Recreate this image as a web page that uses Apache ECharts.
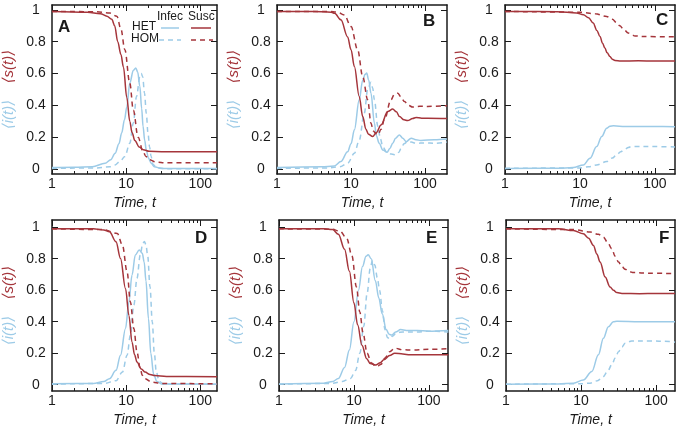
<!DOCTYPE html>
<html>
<head>
<meta charset="utf-8">
<script src="https://cdn.jsdelivr.net/npm/echarts@6/dist/echarts.min.js"></script>
<style>
  html, body { margin: 0; padding: 0; background: #fff; }
  #chart { width: 680px; height: 431px; }
</style>
</head>
<body>
<div id="chart"></div>
<script>
// tick values
var majorX = [1, 10, 100];
var minorX = [2, 3, 4, 5, 6, 7, 8, 9, 20, 30, 40, 50, 60, 70, 80, 90, 200];
var ticksY = [0, 0.2, 0.4, 0.6, 0.8, 1];
var panelNames = ['A', 'B', 'C', 'D', 'E', 'F'];

// [time, value]
// panel A
var aHetInf = [[1,0.01],[2,0.012],[3.5,0.016],[5.2,0.037],[6.2,0.06],[7.1,0.1],[8,0.16],[8.7,0.227],[9.5,0.31],[10.2,0.39],[11.2,0.54],[12.5,0.62],[13.5,0.635],[14.3,0.61],[15.3,0.52],[16.2,0.38],[16.9,0.27],[17.8,0.18],[18.7,0.12],[20,0.07],[21.7,0.038],[24,0.015],[30,0.005],[168,0.005]];
var aHomInf = [[1,0.005],[4,0.008],[6,0.015],[7.1,0.027],[8.3,0.05],[9.6,0.08],[11.2,0.163],[12.5,0.29],[13.8,0.456],[15.3,0.58],[16,0.6],[16.7,0.58],[17.7,0.477],[18.7,0.35],[19.7,0.227],[20.7,0.14],[21.7,0.08],[23,0.03],[26,0.008],[35,0.003],[168,0.003]];
var aHetSus = [[1,0.99],[3,0.985],[4.5,0.975],[5.5,0.96],[6.4,0.94],[7,0.9],[7.7,0.8],[8.5,0.72],[9.2,0.64],[10.2,0.45],[11.2,0.3],[12,0.23],[13.1,0.18],[15,0.14],[17,0.122],[20.5,0.112],[30,0.11],[168,0.11]];
var aHomSus = [[1,0.99],[4,0.988],[6,0.98],[7.5,0.96],[8.5,0.88],[9.6,0.75],[11.2,0.54],[12.5,0.37],[14.5,0.2],[16.9,0.11],[18.5,0.08],[20.7,0.06],[25,0.045],[35,0.04],[168,0.04]];
// panel B
var bHetInf = [[1,0.01],[4,0.015],[5.95,0.02],[7.3,0.048],[9,0.11],[10,0.16],[11.1,0.247],[12.9,0.435],[14.4,0.56],[15.5,0.595],[16.3,0.603],[17.3,0.56],[18.6,0.477],[20.7,0.289],[22,0.21],[24,0.163],[27,0.12],[30.7,0.107],[33.5,0.13],[36.6,0.163],[40,0.195],[45,0.215],[50,0.195],[55.6,0.173],[65,0.195],[75,0.185],[88,0.18],[134,0.185],[198,0.19]];
var bHomInf = [[1,0.005],[5,0.008],[7,0.015],[9,0.037],[11.1,0.1],[12.9,0.18],[15.1,0.35],[16.8,0.5],[18.6,0.545],[19.6,0.51],[20.7,0.435],[23,0.27],[25,0.19],[26.8,0.142],[30,0.11],[35,0.095],[40.6,0.09],[44,0.105],[47.5,0.13],[52,0.16],[58.3,0.173],[65,0.17],[75.5,0.163],[100,0.165],[134,0.163],[198,0.17]];
var bHetSus = [[1,0.99],[3,0.99],[5.4,0.985],[6,0.978],[7.3,0.937],[9,0.83],[10,0.75],[11.1,0.644],[12.9,0.456],[14.4,0.33],[15.9,0.25],[17.2,0.22],[19.6,0.205],[22,0.23],[25.4,0.278],[31.3,0.362],[36.6,0.377],[41,0.36],[45.2,0.33],[52,0.31],[58.3,0.305],[68,0.318],[75.5,0.325],[90,0.32],[108,0.32],[198,0.318]];
var bHomSus = [[1,0.99],[5,0.99],[6.6,0.985],[8.1,0.968],[10,0.895],[12.3,0.749],[14.4,0.58],[16.8,0.435],[18.6,0.289],[20,0.24],[21.8,0.222],[23,0.215],[25.5,0.25],[28.2,0.31],[34.7,0.435],[38.5,0.47],[42.8,0.477],[47,0.455],[52.7,0.424],[60,0.4],[68,0.39],[85,0.395],[108,0.394],[198,0.398]];
// panel C
var cHetInf = [[1,0.005],[5,0.006],[8.1,0.01],[11.1,0.027],[13.6,0.069],[16.7,0.142],[19.5,0.205],[22.7,0.257],[25.1,0.27],[28,0.272],[40,0.268],[100,0.268],[185,0.267]];
var cHomInf = [[1,0.005],[10,0.008],[13,0.015],[16.7,0.027],[22.7,0.048],[27,0.07],[30.8,0.09],[35,0.11],[39.8,0.126],[44,0.136],[48.7,0.142],[100,0.142],[185,0.14]];
var cHetSus = [[1,0.99],[5,0.988],[9,0.98],[11.1,0.969],[13,0.95],[15,0.917],[16.8,0.87],[18.5,0.832],[20,0.79],[21.5,0.76],[23,0.73],[25.1,0.707],[27,0.69],[29.3,0.682],[35,0.678],[60,0.68],[100,0.678],[185,0.678]];
var cHomSus = [[1,0.99],[10,0.985],[16,0.975],[22.7,0.958],[27,0.94],[30.8,0.92],[34,0.9],[37.9,0.88],[44,0.854],[50,0.84],[54,0.836],[70,0.832],[185,0.83]];
// panel D
var dHetInf = [[1,0.006],[3.6,0.008],[5,0.02],[5.95,0.038],[7.3,0.091],[8.4,0.187],[9.8,0.357],[10.9,0.526],[12,0.696],[13.3,0.824],[15,0.855],[16.5,0.835],[17.5,0.78],[18.5,0.66],[20,0.42],[21.5,0.2],[23.5,0.065],[26,0.02],[30,0.005],[168,0.003]];
var dHomInf = [[1,0.003],[5,0.008],[7.3,0.025],[8.9,0.08],[10.3,0.187],[11.4,0.314],[12.7,0.505],[14,0.675],[15.5,0.824],[16.7,0.895],[17.6,0.91],[18.5,0.89],[19.5,0.82],[21,0.62],[22.5,0.4],[24,0.2],[25.5,0.08],[28,0.02],[32,0.005],[168,0.003]];
var dHetSus = [[1,0.99],[3.6,0.99],[5,0.983],[5.95,0.972],[7.3,0.908],[8.4,0.802],[9.8,0.611],[10.9,0.44],[12,0.27],[13,0.19],[14,0.144],[16,0.1],[18,0.08],[21,0.065],[24.3,0.058],[35,0.052],[168,0.05]];
var dHomSus = [[1,0.99],[5,0.985],[7.6,0.96],[8.9,0.887],[10.3,0.717],[11.4,0.526],[12.7,0.357],[14,0.208],[15.5,0.102],[16.5,0.06],[18,0.038],[22,0.017],[30,0.008],[168,0.005]];
// panel E
var eHetInf = [[1,0.005],[4,0.01],[5.2,0.02],[6.2,0.04],[7.5,0.11],[8.7,0.22],[10,0.4],[11.5,0.6],[13,0.75],[14.5,0.815],[15.5,0.825],[17,0.8],[19.3,0.66],[21.5,0.55],[23.8,0.45],[27,0.35],[29.5,0.32],[32,0.315],[36,0.335],[42,0.35],[50,0.345],[70,0.345],[100,0.34],[182,0.345]];
var eHomInf = [[1,0.003],[5,0.008],[7,0.02],[9,0.04],[10.5,0.09],[12,0.2],[13.5,0.37],[15,0.58],[16.5,0.74],[17.7,0.79],[19,0.76],[20.5,0.68],[22,0.6],[24,0.47],[26,0.35],[28,0.3],[30,0.29],[33,0.31],[37,0.33],[45,0.335],[70,0.335],[100,0.34],[182,0.335]];
var eHetSus = [[1,0.99],[4,0.99],[5.2,0.985],[6.2,0.955],[7.5,0.86],[8.7,0.72],[10,0.52],[11.2,0.38],[12.8,0.25],[14.8,0.165],[16.5,0.135],[19.5,0.125],[22.5,0.14],[25,0.158],[30,0.185],[35,0.2],[45,0.195],[56,0.19],[100,0.19],[182,0.19]];
var eHomSus = [[1,0.99],[5,0.988],[6.5,0.975],[8,0.93],[9.4,0.82],[10.8,0.62],[12,0.46],[13.2,0.33],[15,0.2],[17,0.14],[19,0.122],[21,0.12],[23,0.13],[26,0.17],[30,0.21],[35,0.232],[45,0.222],[60,0.22],[100,0.225],[182,0.228]];
// panel F
var fHetInf = [[1,0.003],[5,0.005],[7.9,0.01],[10.7,0.03],[13.9,0.084],[17,0.19],[19.8,0.295],[23.1,0.368],[26.9,0.4],[30,0.403],[60,0.4],[100,0.4],[178,0.4]];
var fHomInf = [[1,0.003],[10,0.006],[13.2,0.01],[16.5,0.025],[19.8,0.052],[22.5,0.085],[25.6,0.126],[28.5,0.17],[31.5,0.21],[35,0.24],[38.6,0.263],[47.3,0.278],[80,0.278],[150,0.275],[178,0.27]];
var fHetSus = [[1,0.99],[5,0.99],[7.9,0.979],[10.7,0.958],[12.6,0.93],[14.6,0.884],[16.2,0.83],[17.9,0.779],[20.9,0.684],[24.3,0.621],[27,0.6],[29.9,0.585],[35,0.58],[60,0.578],[100,0.58],[178,0.58]];
var fHomSus = [[1,0.99],[7.9,0.985],[13.2,0.97],[17,0.955],[19.8,0.937],[22.5,0.905],[25.6,0.863],[28.5,0.815],[31.5,0.779],[35,0.75],[38.6,0.733],[44,0.718],[49.7,0.712],[80,0.708],[178,0.706]];

var RED = '#a5353b';
var BLUE = '#9dcbe7';
var INK = '#1a1a1a';
var FONT = '"Liberation Sans", Arial, "DejaVu Sans", sans-serif';

// each panel: its curves, box in pixels, axis ranges
var panels = [
    {curves: [aHetInf, aHomInf, aHetSus, aHomSus], left: 48, top: 5, width: 169, height: 169, xmax: 168, ymin: -0.03, ymax: 1.03},
    {curves: [bHetInf, bHomInf, bHetSus, bHomSus], left: 277, top: 5, width: 170, height: 169, xmax: 198, ymin: -0.03, ymax: 1.03},
    {curves: [cHetInf, cHomInf, cHetSus, cHomSus], left: 505, top: 5, width: 170, height: 169, xmax: 185, ymin: -0.03, ymax: 1.03},
    {curves: [dHetInf, dHomInf, dHetSus, dHomSus], left: 48, top: 220, width: 169, height: 171, xmax: 168, ymin: -0.04, ymax: 1.046},
    {curves: [eHetInf, eHomInf, eHetSus, eHomSus], left: 279, top: 220, width: 169, height: 171, xmax: 180, ymin: -0.04, ymax: 1.046},
    {curves: [fHetInf, fHomInf, fHetSus, fHomSus], left: 506, top: 220, width: 169, height: 171, xmax: 178, ymin: -0.04, ymax: 1.046}
];

var chart = echarts.init(document.getElementById('chart'), null, {renderer: 'canvas'});

var grids = [], xAxes = [], yAxes = [], series = [];

function xAxis(g, p, pos, ticks, len, main) {
    return {
        type: 'log', logBase: 10, gridIndex: g, min: 1, max: p.xmax, position: pos,
        axisLine: {show: main, onZero: false, lineStyle: {color: INK, width: 1.5}},
        axisTick: {show: true, inside: true, length: len, customValues: ticks.filter(function (v) { return v <= p.xmax; }),
            lineStyle: {color: INK, width: 1}},
        axisLabel: {show: main && pos === 'bottom', customValues: majorX, fontSize: 14, color: INK, margin: 3, fontFamily: FONT},
        splitLine: {show: false},
        name: (main && pos === 'bottom') ? 'Time, t' : '',
        nameLocation: 'middle', nameGap: 22,
        nameTextStyle: {fontStyle: 'italic', fontSize: 14, color: INK, fontFamily: FONT}
    };
}

function yAxis(g, p, pos) {
    var left = pos === 'left';
    return {
        type: 'value', gridIndex: g, min: p.ymin, max: p.ymax, position: pos,
        axisLine: {show: true, onZero: false, lineStyle: {color: INK, width: 1.5}},
        axisTick: {show: true, inside: true, length: 6, customValues: ticksY, lineStyle: {color: INK, width: 1}},
        axisLabel: {show: left, customValues: ticksY, fontSize: 14, color: INK, margin: 16, align: 'center', fontFamily: FONT,
            formatter: function (v) { return (v === 0 || v === 1) ? String(v) : v.toFixed(1); }},
        splitLine: {show: false},
        name: left ? '{i|\u27e8i(t)\u27e9}    {s|\u27e8s(t)\u27e9}' : '',
        nameLocation: 'middle', nameGap: 36,
        nameTextStyle: {
            fontSize: 15,
            rich: {
                i: {color: BLUE, fontStyle: 'italic', fontSize: 15, fontFamily: FONT},
                s: {color: RED, fontStyle: 'italic', fontSize: 15, fontFamily: FONT}
            }
        }
    };
}

panels.forEach(function (p, g) {
    grids.push({left: p.left, top: p.top, width: p.width, height: p.height, containLabel: false});
    var xi = xAxes.length;
    xAxes.push(xAxis(g, p, 'bottom', majorX, 6, true));
    xAxes.push(xAxis(g, p, 'top', majorX, 6, true));
    xAxes.push(xAxis(g, p, 'bottom', minorX, 3, false));
    xAxes.push(xAxis(g, p, 'top', minorX, 3, false));
    var yi = yAxes.length;
    yAxes.push(yAxis(g, p, 'left'));
    yAxes.push(yAxis(g, p, 'right'));

    var styles = [
        {color: BLUE, type: 'solid'},
        {color: BLUE, type: [5, 4]},
        {color: RED, type: 'solid'},
        {color: RED, type: [5, 4]}
    ];
    p.curves.forEach(function (data, k) {
        series.push({
            type: 'line', xAxisIndex: xi, yAxisIndex: yi, data: data,
            showSymbol: false, smooth: 0.35, smoothMonotone: 'x', silent: true,
            clip: true,
            lineStyle: {color: styles[k].color, type: styles[k].type, width: 1.5}
        });
    });
});

// panel letters and the key in panel A
var letterPos = [[65, 29], [430, 23], [663, 22], [202, 240], [433, 240], [666, 240]];
var graphics = letterPos.map(function (lp, i) {
    return {type: 'text', left: lp[0] - 7, top: lp[1] - 10,
        style: {text: panelNames[i], font: 'bold 17px ' + FONT, fill: INK}};
});
var keyText = [['Infec', 157, 11], ['Susc', 188, 11], ['HET', 132, 21], ['HOM', 131, 33]];
keyText.forEach(function (k) {
    graphics.push({type: 'text', left: k[1], top: k[2], style: {text: k[0], font: '12px ' + FONT, fill: INK}});
});
graphics.push({type: 'line', shape: {x1: 161, y1: 28, x2: 179, y2: 28}, style: {stroke: BLUE, lineWidth: 1.5}});
graphics.push({type: 'line', shape: {x1: 191, y1: 28, x2: 211, y2: 28}, style: {stroke: RED, lineWidth: 1.5}});
graphics.push({type: 'line', shape: {x1: 159, y1: 40, x2: 181, y2: 40}, style: {stroke: BLUE, lineWidth: 1.5, lineDash: [5, 4]}});
graphics.push({type: 'line', shape: {x1: 191, y1: 40, x2: 213, y2: 40}, style: {stroke: RED, lineWidth: 1.5, lineDash: [5, 4]}});

chart.setOption({
    animation: false,
    backgroundColor: '#fff',
    grid: grids,
    xAxis: xAxes,
    yAxis: yAxes,
    series: series,
    graphic: graphics
});
</script>
</body>
</html>
